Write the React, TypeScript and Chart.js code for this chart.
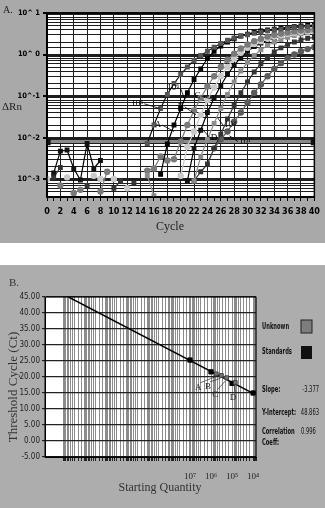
import React, { useEffect, useRef } from 'react';
import { Chart, registerables } from 'chart.js';
Chart.register(...registerables);

const n = null;
const SERIF = '"Liberation Serif", "DejaVu Serif", serif';
const NARROW = '"Liberation Sans Narrow", "DejaVu Sans Condensed", "Liberation Sans", sans-serif';

// ---------- Panel A : amplification plot ----------
const cycles = [0,1,2,3,4,5,6,7,8,9,10,11,12,13,14,15,16,17,18,19,20,21,22,23,24,25,26,27,28,29,30,31,32,33,34,35,36,37,38,39,40];

const seriesA = [n,n,n,n,n,n,n,n,n,n,n,n,n,n,n, 0.0072,0.02,0.05,0.11,0.2,0.33,0.5,0.72,0.95,1.2,1.5,1.85,2.2,2.5,2.8,3.0,3.25,3.45,3.7,3.9,4.1,4.3,4.45,4.6,4.7,4.8];
const seriesB = [n,n,n,n,n,n,n,n,n,n,n,n,n,n,n,n,n, 0.0013,0.007,0.02,0.05,0.12,0.25,0.45,0.8,1.2,1.6,2.0,2.4,2.8,3.1,3.4,3.7,3.9,4.1,4.3,4.5,4.7,4.9,5.0,5.1];
const seriesC = [n,n,0.0007,n,0.00046,0.00055,n,n,0.0005,0.0015,n,n,n,n,n, 0.0016,0.0018,0.0035,0.0028,0.003,0.008,0.02,0.045,0.09,0.17,0.3,0.5,0.75,1.05,1.4,1.75,2.1,2.4,2.7,3.0,3.2,3.4,3.6,3.8,3.9,4.0];
const seriesD = [0.001,n,n,0.0011,n,n,n,0.0012,0.001,n,0.001,n,0.0006,n,n,n,n,n,n,n, 0.0012,0.006,0.014,0.035,0.08,0.16,0.3,0.5,0.8,1.1,1.45,1.8,2.1,2.4,2.7,2.9,3.1,3.3,3.5,3.6,3.7];
const seriesE = [n,n,n,n,n,n,n,n,n,n,n,n,n,n,n, 0.0012,0.0004,n,n,n,n,n, 0.0009,0.0035,0.009,0.022,0.05,0.11,0.22,0.4,0.65,0.95,1.3,1.65,2.0,2.3,2.6,2.85,3.1,3.3,3.5];
const seriesF = [n,0.0014,0.0047,0.005,0.0018,0.00095,0.0072,0.0018,0.0028,n,n,n,n,n,n,n,n,n,n,n,n, 0.0009,0.0055,0.015,0.04,0.09,0.18,0.33,0.55,0.85,1.2,1.55,1.9,2.2,2.5,2.75,3.0,3.2,3.4,3.5,3.6];
const seriesG = [n,0.0011,0.0019,n,n,n,0.0007,n,n,n,0.0006,0.0009,n,0.0008,n,n,n,n,n,n,n,n, 0.0009,0.0015,0.0023,0.0055,0.012,0.028,0.06,0.12,0.22,0.38,0.6,0.85,1.15,1.45,1.75,2.0,2.25,2.45,2.6];
const seriesH = [n,n,n,n,n,n,n,n,n,n,n,n,n,n,n,n,n,n,n,n,n,n,n,n,n, 0.0055,0.009,0.014,0.024,0.04,0.07,0.12,0.19,0.3,0.45,0.62,0.82,1.0,1.2,1.35,1.5];

const seriesList = [seriesA, seriesB, seriesC, seriesD, seriesE, seriesF, seriesG, seriesH];
const seriesLine = ['#111', '#000', '#7a7a7a', '#c9c9c9', '#8c8c8c', '#000', '#333', '#5a5a5a'];
const seriesPoint = ['#555', '#000', '#7a7a7a', '#c9c9c9', '#8c8c8c', '#111', '#333', '#5a5a5a'];
const seriesShape = ['rect', 'rect', 'circle', 'circle', 'rect', 'rect', 'rect', 'circle'];

const thresholdCycles = [0, 40];
const thresholdValue = 0.008;

const yTickLabelsA: Record<string, string> = { '1': '10^ 1', '0': '10^ 0', '-1': '10^-1', '-2': '10^-2', '-3': '10^-3' };

const annotTextA = ['10⁵', '10⁶', 'C', 'B', 'A', 'D', '10⁴', '10¹'];
const annotAtA = [[13.5, 0.065], [18.9, 0.155], [22.5, 0.1], [20.0, 0.055], [16.6, 0.02], [25.0, 0.01], [27.4, 0.02], [29.6, 0.008]];
const annotToA = [[16.9, 0.05], [20.6, 0.085], [25.2, 0.08], [22.3, 0.035], [19.0, 0.014], [23.2, 0.016], [25.5, 0.03], [27.3, 0.011]];

// ---------- Panel B : standard curve ----------
const stdQty = [1e7, 1e6, 1e5, 1e4];
const stdCt = [25.3, 21.6, 18.0, 15.0];
const unkQty = [5.6e5, 3.2e5, 1.8e5, 7.0e4];
const unkCt = [21.0, 20.5, 19.8, 18.3];
const fitQty = [6.0e12, 1e4];
const fitCt = [45, 14.9];
const xTickLabelsB: Record<string, string> = { '4': '10⁴', '5': '10⁵', '6': '10⁶', '7': '10⁷' };
const annotTextB = ['A', 'B', 'C', 'D'];
const annotAtB = [[4.1e6, 16.6], [1.4e6, 16.9], [6.3e5, 14.4], [8.9e4, 13.4]];
const statLabels = ['Slope:', 'Y-Intercept:', 'Correlation'];
const statValues = ['-3.377', '48.863', '0.996'];

function logExp(v: number): number | null {
  const e = Math.log10(v);
  const r = Math.round(e);
  return Math.abs(e - r) < 1e-6 ? r : null;
}

function bgPlugin(color: string) {
  return {
    id: 'bg',
    beforeDraw(chart: any) {
      const { ctx, chartArea: a, width, height } = chart;
      ctx.save();
      ctx.fillStyle = color;
      ctx.fillRect(0, 0, width, height);
      ctx.fillStyle = '#fff';
      ctx.fillRect(a.left, a.top, a.right - a.left, a.bottom - a.top);
      ctx.restore();
    },
  };
}

// draws horizontally compressed text (narrow look)
function narrowText(ctx: CanvasRenderingContext2D, text: string, x: number, y: number, align: CanvasTextAlign, sx = 0.72) {
  ctx.save();
  ctx.translate(x, y);
  ctx.scale(sx, 1);
  ctx.textAlign = align;
  ctx.fillText(text, 0, 0);
  ctx.restore();
}

function drawLeader(ctx: CanvasRenderingContext2D, text: string, lx: number, ly: number, tx: number, ty: number) {
  const w = ctx.measureText(text).width;
  const dir = tx >= lx ? 1 : -1;
  ctx.beginPath();
  ctx.moveTo(lx + dir * (w / 2 + 1), ly);
  ctx.lineTo(tx, ty);
  ctx.stroke();
  ctx.fillText(text, lx, ly);
}

export default function App() {
  const refA = useRef<HTMLCanvasElement>(null);
  const refB = useRef<HTMLCanvasElement>(null);

  useEffect(() => {
    document.body.style.margin = '0';

    const datasetsA: any[] = seriesList.map((s, i) => ({
      data: s.map((v, k) => ({ x: cycles[k], y: v })),
      borderColor: seriesLine[i],
      backgroundColor: seriesPoint[i],
      pointBackgroundColor: seriesPoint[i],
      pointBorderColor: seriesPoint[i],
      pointStyle: seriesShape[i],
      pointRadius: 2.6,
      borderWidth: 1.2,
      spanGaps: false,
    }));
    datasetsA.push({
      data: thresholdCycles.map((c) => ({ x: c, y: thresholdValue })),
      borderColor: '#8a8a8a',
      borderWidth: 3,
      pointStyle: 'rect',
      pointRadius: 3,
      pointBackgroundColor: '#111',
      pointBorderColor: '#111',
    });

    const textA = {
      id: 'textA',
      afterDraw(chart: any) {
        const { ctx, scales } = chart;
        const a = chart.chartArea;
        ctx.save();
        ctx.strokeStyle = '#000';
        ctx.lineWidth = 1.5;
        ctx.strokeRect(a.left, a.top, a.right - a.left, a.bottom - a.top);
        ctx.fillStyle = '#222';
        ctx.font = `10px ${SERIF}`;
        ctx.textAlign = 'left';
        ctx.textBaseline = 'middle';
        ctx.fillText('A.', 3, 10);
        ctx.font = `11px ${SERIF}`;
        ctx.fillText('ΔRn', 2, 107);
        ctx.textAlign = 'center';
        ctx.font = `12px ${SERIF}`;
        ctx.fillText('Cycle', 170, 227);
        ctx.fillStyle = '#000';
        ctx.strokeStyle = '#000';
        ctx.lineWidth = 0.8;
        ctx.font = `9px ${SERIF}`;
        annotTextA.forEach((t, i) => {
          const lx = scales.x.getPixelForValue(annotAtA[i][0]);
          const ly = scales.y.getPixelForValue(annotAtA[i][1]);
          const tx = scales.x.getPixelForValue(annotToA[i][0]);
          const ty = scales.y.getPixelForValue(annotToA[i][1]);
          drawLeader(ctx, t, lx, ly, tx, ty);
        });
        ctx.restore();
      },
    };

    const chartA = new Chart(refA.current!, {
      type: 'line',
      data: { datasets: datasetsA },
      options: {
        animation: false,
        responsive: false,
        maintainAspectRatio: false,
        layout: { padding: { top: 13, right: 6, left: 0, bottom: 0 } },
        plugins: { legend: { display: false }, tooltip: { enabled: false } },
        scales: {
          x: {
            type: 'linear',
            min: 0,
            max: 40,
            afterFit: (s: any) => { s.height = 46; },
            ticks: {
              stepSize: 1,
              autoSkip: false,
              maxRotation: 0,
              padding: 5,
              color: '#000',
              font: { family: NARROW, size: 9, weight: 'bold' },
              callback: (v: any) => (Number(v) % 2 === 0 ? String(v) : ''),
            },
            grid: {
              color: (c: any) => (c.tick && c.tick.value % 2 === 0 ? '#1e1e1e' : 'rgba(0,0,0,0)'),
              tickColor: '#000',
              tickLength: 4,
              lineWidth: 1,
            },
            border: { color: '#000', width: 2 },
          },
          y: {
            type: 'logarithmic',
            min: 3.7e-4,
            max: 10,
            afterFit: (s: any) => { s.width = 47; },
            ticks: {
              autoSkip: false,
              padding: 3,
              color: '#000',
              font: { family: NARROW, size: 7.5, weight: 'bold' },
              callback: (v: any) => {
                const e = logExp(Number(v));
                return e === null ? '' : (yTickLabelsA[String(e)] || '');
              },
            },
            grid: {
              color: '#1e1e1e',
              lineWidth: (c: any) => (c.tick && logExp(c.tick.value) !== null ? 2 : 1),
              tickColor: (c: any) => (c.tick && logExp(c.tick.value) !== null ? '#000' : 'rgba(0,0,0,0)'),
              tickLength: 4,
            },
            border: { color: '#000', width: 1.5 },
          },
        },
      } as any,
      plugins: [bgPlugin('#a9a9a9'), textA],
    });

    // ---------- Panel B ----------
    const textB = {
      id: 'textB',
      afterDraw(chart: any) {
        const { ctx, scales } = chart;
        const a = chart.chartArea;
        ctx.save();
        ctx.strokeStyle = '#000';
        ctx.lineWidth = 1;
        ctx.strokeRect(a.left, a.top, a.right - a.left, a.bottom - a.top);
        ctx.fillStyle = '#333';
        ctx.textBaseline = 'middle';
        ctx.textAlign = 'left';
        ctx.font = `11px ${SERIF}`;
        ctx.fillText('B.', 9, 18);
        ctx.textAlign = 'center';
        ctx.font = `12px ${SERIF}`;
        ctx.fillText('Starting Quantity', 160, 223);
        ctx.save();
        ctx.translate(14, 122);
        ctx.rotate(-Math.PI / 2);
        ctx.font = `13px ${SERIF}`;
        ctx.fillText('Threshold Cycle (Ct)', 0, 0);
        ctx.restore();
        // legend
        ctx.fillStyle = '#111';
        ctx.font = `bold 8px ${NARROW}`;
        narrowText(ctx, 'Unknown', 262, 62, 'left');
        narrowText(ctx, 'Standards', 262, 87, 'left');
        ctx.fillStyle = '#7d7d7d';
        ctx.fillRect(301, 55, 11, 13);
        ctx.strokeStyle = '#222';
        ctx.strokeRect(301, 55, 11, 13);
        ctx.fillStyle = '#111';
        ctx.fillRect(301, 81, 11, 13);
        narrowText(ctx, statLabels[0], 262, 125, 'left');
        narrowText(ctx, statLabels[1], 262, 148, 'left');
        narrowText(ctx, statLabels[2], 262, 167, 'left');
        narrowText(ctx, 'Coeff:', 262, 178, 'left');
        ctx.font = `8px ${NARROW}`;
        narrowText(ctx, statValues[0], 319, 125, 'right');
        narrowText(ctx, statValues[1], 319, 148, 'right');
        narrowText(ctx, statValues[2], 301, 167, 'left');
        // annotations
        ctx.fillStyle = '#222';
        ctx.strokeStyle = '#333';
        ctx.lineWidth = 0.7;
        ctx.textAlign = 'center';
        ctx.font = `9px ${SERIF}`;
        annotTextB.forEach((t, i) => {
          const lx = scales.x.getPixelForValue(annotAtB[i][0]);
          const ly = scales.y.getPixelForValue(annotAtB[i][1]);
          const tx = scales.x.getPixelForValue(unkQty[i]);
          const ty = scales.y.getPixelForValue(unkCt[i]) + 3;
          ctx.beginPath();
          ctx.moveTo(lx + 2, ly - 5);
          ctx.lineTo(tx - 1, ty);
          ctx.stroke();
          ctx.fillText(t, lx, ly);
        });
        ctx.restore();
      },
    };

    const chartB = new Chart(refB.current!, {
      type: 'scatter',
      data: {
        datasets: [
          {
            data: unkQty.map((q, i) => ({ x: q, y: unkCt[i] })),
            pointStyle: 'rect',
            pointRadius: 2.6,
            pointBackgroundColor: '#777',
            pointBorderColor: '#444',
          },
          {
            data: stdQty.map((q, i) => ({ x: q, y: stdCt[i] })),
            pointStyle: 'rect',
            pointRadius: 3,
            pointBackgroundColor: '#000',
            pointBorderColor: '#000',
          },
          {
            type: 'line',
            data: fitQty.map((q, i) => ({ x: q, y: fitCt[i] })),
            borderColor: '#000',
            borderWidth: 1.5,
            pointRadius: 0,
            showLine: true,
          } as any,
        ],
      },
      options: {
        animation: false,
        responsive: false,
        maintainAspectRatio: false,
        layout: { padding: { top: 32, right: 69, left: 0, bottom: 0 } },
        plugins: { legend: { display: false }, tooltip: { enabled: false } },
        scales: {
          x: {
            type: 'logarithmic',
            reverse: true,
            min: 7244,
            max: 7.9e13,
            afterFit: (s: any) => { s.height = 51; },
            ticks: {
              autoSkip: false,
              maxRotation: 0,
              padding: 10,
              color: '#222',
              font: { family: SERIF, size: 9 },
              callback: (v: any) => {
                const e = logExp(Number(v));
                return e === null ? '' : (xTickLabelsB[String(e)] || '');
              },
            },
            grid: {
              color: (c: any) => (c.tick && c.tick.value > 1.01e13 ? 'rgba(0,0,0,0)' : '#8c8c8c'),
              lineWidth: 1,
              tickColor: (c: any) => (c.tick && c.tick.value > 1.01e13 ? 'rgba(0,0,0,0)' : '#222'),
              tickLength: 4,
            },
            border: { color: '#000', width: 1 },
          },
          y: {
            type: 'linear',
            min: -5,
            max: 45,
            afterFit: (s: any) => { s.width = 45; },
            ticks: {
              stepSize: 5,
              padding: 2,
              color: '#222',
              font: { family: NARROW, size: 8 },
              callback: (v: any) => Number(v).toFixed(2),
            },
            grid: { color: '#222', lineWidth: 1.2, tickLength: 3, tickColor: '#222' },
            border: { color: '#000', width: 1 },
          },
        },
      } as any,
      plugins: [bgPlugin('#adadad'), textB],
    });

    return () => {
      chartA.destroy();
      chartB.destroy();
    };
  }, []);

  return (
    <div style={{ position: 'relative', width: 325, height: 508, background: '#fff', overflow: 'hidden' }}>
      <canvas ref={refA} width={325} height={243} style={{ position: 'absolute', left: 0, top: 0 }} />
      <canvas ref={refB} width={325} height={243} style={{ position: 'absolute', left: 0, top: 265 }} />
    </div>
  );
}
